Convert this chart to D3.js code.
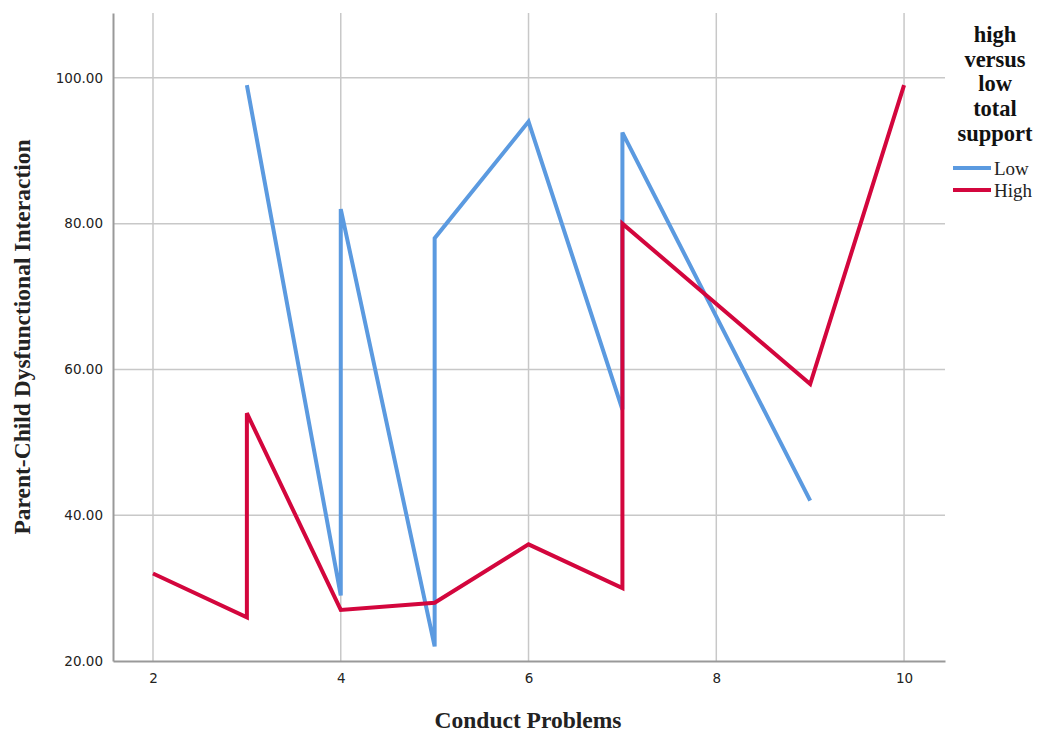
<!DOCTYPE html>
<html><head><meta charset="utf-8">
<script src="https://cdn.jsdelivr.net/npm/d3@7"></script>
<style>body{margin:0;background:#fff}</style>
</head><body>
<svg id="c" width="1040" height="734"></svg>
<script>
const lowX  = [3, 4, 4, 5, 5, 6, 7, 7, 9];
const lowY  = [99, 29, 82, 22, 78, 94, 54.5, 92.5, 42];
const highX = [2, 3, 3, 4, 5, 6, 7, 7, 9, 10];
const highY = [32, 26, 54, 27, 28, 36, 30, 80, 58, 99];
const xTicks = [2, 4, 6, 8, 10];
const yTicks = [20, 40, 60, 80, 100];
const seriesNames = ["Low", "High"];
const colors = ["#5b9ae0", "#d3063d"];

const svg = d3.select("#c");
const L = 113, R = 945, T = 13, B = 661;
const x = d3.scaleLinear().domain([1.574, 10.436]).range([L, R]);
const y = d3.scaleLinear().domain([20, 108.9]).range([B, T]);

// gridlines
const g = svg.append("g");
g.selectAll(".vg").data(xTicks).join("line")
  .attr("x1", d => x(d)).attr("x2", d => x(d)).attr("y1", T).attr("y2", B)
  .attr("stroke", "#c8c8c8").attr("stroke-width", 1.5);
g.selectAll(".hg").data(yTicks.filter(d => d > 20)).join("line")
  .attr("x1", L).attr("x2", R).attr("y1", d => y(d)).attr("y2", d => y(d))
  .attr("stroke", "#c8c8c8").attr("stroke-width", 1.5);

// axes
const xa = svg.append("g").attr("transform", `translate(0,${B})`)
  .call(d3.axisBottom(x).tickValues(xTicks).tickSize(0).tickPadding(12).tickFormat(d3.format("d")));
xa.select(".domain").attr("stroke", "#999").attr("stroke-width", 2);
xa.selectAll("text").attr("font-family", "DejaVu Sans").attr("font-size", 13.5).attr("fill", "#222");

const ya = svg.append("g").attr("transform", `translate(${L},0)`)
  .call(d3.axisLeft(y).tickValues(yTicks).tickSize(0).tickPadding(10).tickFormat(d3.format(".2f")));
ya.select(".domain").attr("stroke", "#999").attr("stroke-width", 2);
ya.selectAll("text").attr("font-family", "DejaVu Sans").attr("font-size", 13.5).attr("fill", "#222");

// lines
const line = d3.line().x(d => x(d[0])).y(d => y(d[1]));
const series = [d3.zip(lowX, lowY), d3.zip(highX, highY)];
svg.selectAll(".s").data(series).join("path")
  .attr("d", line).attr("fill", "none")
  .attr("stroke", (d, i) => colors[i]).attr("stroke-width", 4)
  .attr("stroke-linejoin", "miter").attr("stroke-linecap", "butt");

// axis titles
svg.append("text").attr("x", 528).attr("y", 728).attr("text-anchor", "middle")
  .attr("font-family", "Liberation Serif").attr("font-weight", "bold").attr("font-size", 23.5)
  .attr("fill", "#222").text("Conduct Problems");
svg.append("text").attr("transform", "translate(30,337) rotate(-90)").attr("text-anchor", "middle")
  .attr("font-family", "Liberation Serif").attr("font-weight", "bold").attr("font-size", 23.5)
  .attr("fill", "#222").text("Parent-Child Dysfunctional Interaction");

// legend
const titleLines = ["high", "versus", "low", "total", "support"];
svg.selectAll(".lt").data(titleLines).join("text")
  .attr("x", 995).attr("y", (d, i) => 42 + i * 24.7).attr("text-anchor", "middle")
  .attr("font-family", "Liberation Serif").attr("font-weight", "bold").attr("font-size", 22.5)
  .attr("fill", "#111").text(d => d);
const lg = svg.selectAll(".le").data(seriesNames).join("g")
  .attr("transform", (d, i) => `translate(0,${168 + i * 22})`);
lg.append("line").attr("x1", 953).attr("x2", 991).attr("stroke", (d, i) => colors[i]).attr("stroke-width", 4);
lg.append("text").attr("x", 994).attr("y", 6.5).attr("font-family", "Liberation Serif")
  .attr("font-size", 19).attr("fill", "#222").text(d => d);
</script>
</body></html>
